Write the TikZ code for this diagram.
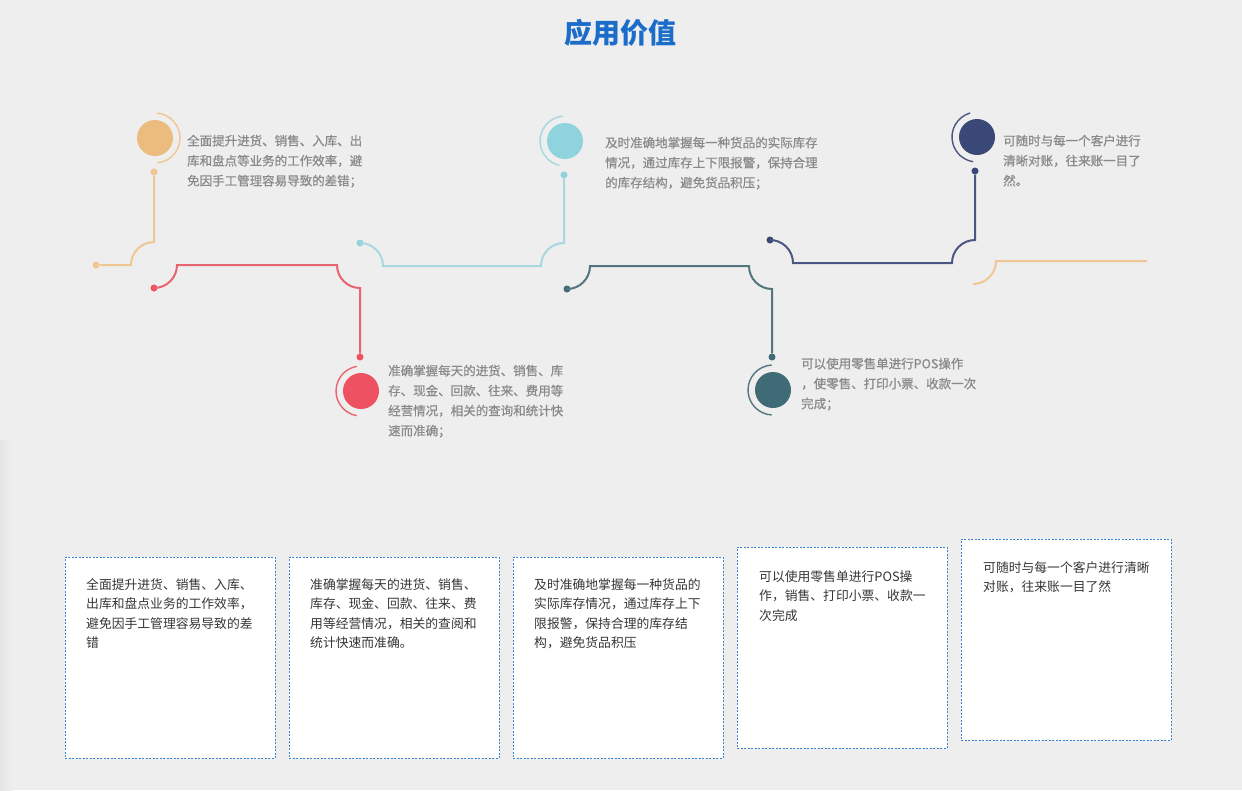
\documentclass[tikz,border=0pt]{standalone}
\usepackage{fontspec}
\newfontfamily\cjk{Noto Sans CJK SC}
\newfontfamily\cjkm[FakeBold=0.7]{Noto Sans CJK SC}
\definecolor{bg}{HTML}{EEEEEE}
\definecolor{titleblue}{HTML}{1C6DC9}
\definecolor{notegray}{HTML}{8A8A8A}
\definecolor{cardgray}{HTML}{363636}
\definecolor{cardblue}{HTML}{3C86D0}
\definecolor{orangeC}{HTML}{EBBC7E}
\definecolor{orangeL}{HTML}{F0C693}
\definecolor{redC}{HTML}{EE5262}
\definecolor{redL}{HTML}{E8646F}
\definecolor{blueC}{HTML}{8FD3DD}
\definecolor{blueL}{HTML}{A8D7DF}
\definecolor{tealC}{HTML}{3E6B76}
\definecolor{tealL}{HTML}{52757E}
\definecolor{navyC}{HTML}{3A4878}
\definecolor{navyL}{HTML}{4C5781}
\definecolor{edge}{HTML}{E4E4E4}
\tikzset{
  pipe/.style={line width=2pt},
  ring/.style={line width=1.4pt},
  dotn/.style={circle, inner sep=0pt, minimum size=7pt},
  ball/.style={circle, inner sep=0pt, minimum size=36pt},
  note/.style={font=\cjkm\fontsize{12.5}{20}\selectfont, text=notegray, align=left, anchor=north west, inner sep=0pt},
  card/.style={draw=cardblue, fill=white, line width=0.9pt, dash pattern=on 2pt off 1.5pt, anchor=north west, minimum width=210pt, minimum height=201pt, inner sep=0pt},
  cardtext/.style={font=\cjk\fontsize{12.8}{19.3}\selectfont, text=cardgray, align=left, anchor=north west, inner sep=0pt},
}
\begin{document}
\begin{tikzpicture}[x=1pt,y=-1pt]
\fill[bg] (0,0) rectangle (1242,790);
\useasboundingbox (0,0) rectangle (1242,790);
\shade[left color=edge, right color=bg] (0,440) rectangle (12,790);

% title
\node[font=\cjk\bfseries\fontsize{28}{30}\selectfont, text=titleblue] (title) at (620,33) {应用价值};

% big circles
\node[ball, fill=orangeC] (c1) at (155,138) {};
\node[ball, fill=redC] (c2) at (361,391) {};
\node[ball, fill=blueC] (c3) at (565,141) {};
\node[ball, fill=tealC] (c4) at (773,390) {};
\node[ball, fill=navyC] (c5) at (977,137) {};

% rings around circles
\draw[ring, orangeL] (c1.center) ++(-85:25) arc[start angle=-85, end angle=85, radius=25];
\draw[ring, redL] (c2.center) ++(-100:25) arc[start angle=-100, end angle=-260, radius=25];
\draw[ring, blueL] (c3.center) ++(-95:25) arc[start angle=-95, end angle=-257, radius=25];
\draw[ring, tealL] (c4.center) ++(-93:25) arc[start angle=-93, end angle=-267, radius=25];
\draw[ring, navyL] (c5.center) ++(-106:25) arc[start angle=-106, end angle=-261, radius=25];

% dots
\node[dotn, fill=orangeL] (oA) at (154,172) {};
\node[dotn, fill=orangeL] (oB) at (96,265) {};
\node[dotn, fill=redC] (rA) at (154,288) {};
\node[dotn, fill=redC] (rB) at (360,357) {};
\node[dotn, fill=blueC] (bA) at (360,243) {};
\node[dotn, fill=blueC] (bB) at (564,175) {};
\node[dotn, fill=tealC] (tA) at (567,289) {};
\node[dotn, fill=tealC] (tB) at (772,357) {};
\node[dotn, fill=navyC] (nA) at (770,240) {};
\node[dotn, fill=navyC] (nB) at (975,171) {};
\coordinate (oC) at (973,284);
\coordinate (oD) at (1147,261);

% pipes
\draw[pipe, orangeL] (oA) -- (154,242) arc[start angle=-90, end angle=-180, radius=23] -- (oB);
\draw[pipe, redL] (rA.center) arc[start angle=90, end angle=0, radius=23] -- (337,265) arc[start angle=180, end angle=90, radius=23] -- (rB);
\draw[pipe, blueL] (bA.center) arc[start angle=-90, end angle=0, radius=23] -- (541,266) arc[start angle=180, end angle=270, radius=23] -- (bB);
\draw[pipe, tealL] (tA.center) arc[start angle=90, end angle=0, radius=23] -- (749,266) arc[start angle=180, end angle=90, radius=23] -- (tB);
\draw[pipe, navyL] (nA.center) arc[start angle=-90, end angle=0, radius=23] -- (952,263) arc[start angle=180, end angle=270, radius=23] -- (nB);
\draw[pipe, orangeL] (oC) arc[start angle=90, end angle=0, radius=23] -- (oD);

% notes
\node[note] (n1) at (187,134.6) {全面提升进货、销售、入库、出\\库和盘点等业务的工作效率，避\\免因手工管理容易导致的差错；};
\node[note] (n2) at (388,364.6) {准确掌握每天的进货、销售、库\\存、现金、回款、往来、费用等\\经营情况，相关的查询和统计快\\速而准确；};
\node[note] (n3) at (605,136.6) {及时准确地掌握每一种货品的实际库存\\情况，通过库存上下限报警，保持合理\\的库存结构，避免货品积压；};
\node[note] (n4) at (801,357.6) {可以使用零售单进行POS操作\\，使零售、打印小票、收款一次\\完成；};
\node[note] (n5) at (1003,134.6) {可随时与每一个客户进行\\清晰对账，往来账一目了\\然。};

% cards
\node[card] (k1) at (65,557) {};
\node[card] (k2) at (289,557) {};
\node[card] (k3) at (513,557) {};
\node[card] (k4) at (737,547) {};
\node[card] (k5) at (961,539) {};
\node[cardtext] (k1t) at (86,578.5) {全面提升进货、销售、入库、\\出库和盘点业务的工作效率，\\避免因手工管理容易导致的差\\错};
\node[cardtext] (k2t) at (310,578.5) {准确掌握每天的进货、销售、\\库存、现金、回款、往来、费\\用等经营情况，相关的查阅和\\统计快速而准确。};
\node[cardtext] (k3t) at (534,578.5) {及时准确地掌握每一种货品的\\实际库存情况，通过库存上下\\限报警，保持合理的库存结\\构，避免货品积压};
\node[cardtext] (k4t) at (759,570.5) {可以使用零售单进行POS操\\作，销售、打印小票、收款一\\次完成};
\node[cardtext] (k5t) at (983,561.5) {可随时与每一个客户进行清晰\\对账，往来账一目了然};
\end{tikzpicture}
\end{document}
